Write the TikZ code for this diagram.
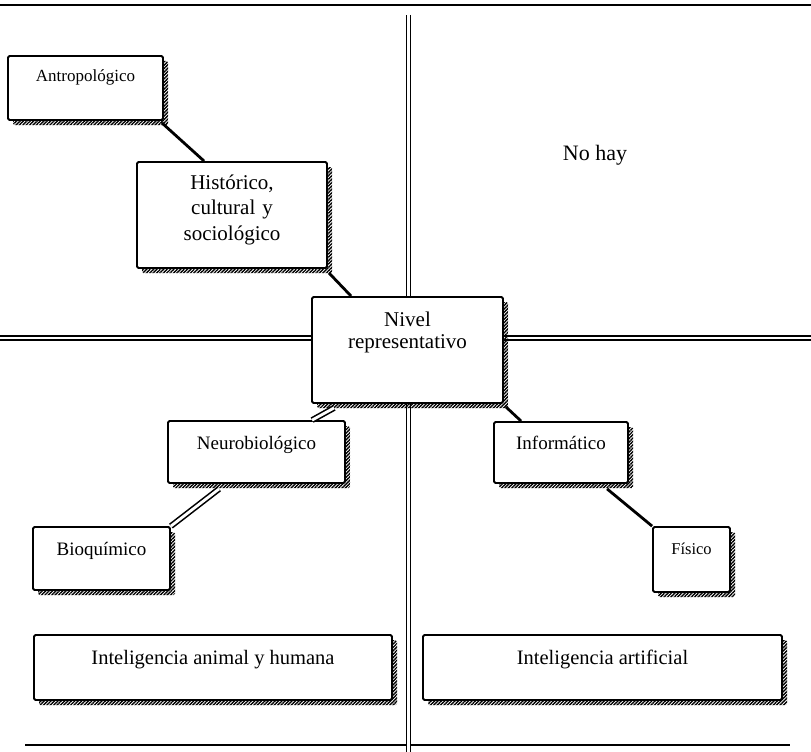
\documentclass[tikz,border=0pt]{standalone}
\usepackage{fontspec}
\setmainfont{Liberation Serif}
\usetikzlibrary{patterns.meta,calc}
\begin{document}
\begin{tikzpicture}[x=1pt,y=-1pt,
  box/.style={draw, line width=1.8pt, fill=white, rounded corners=1.5pt, inner sep=0pt,
    preaction={draw=none, pattern={Lines[angle=45,distance=2.4pt,line width=1.4pt]},
      transform canvas={shift={(5pt,-5pt)}}}},
  txt/.style={anchor=base, align=center, inner sep=0pt, font=\fontsize{20.5}{24}\selectfont},
  smalltxt/.style={txt, font=\fontsize{19}{22}\selectfont},
  tinytxt/.style={txt, font=\fontsize{17}{20}\selectfont},
  conn/.style={line width=2.8pt},
  dconn/.style={line width=1.6pt, double, double distance=2.8pt},
  rule/.style={line width=2pt},
  grid/.style={line width=1.5pt, double, double distance=2.8pt}]
\useasboundingbox (0,0) rectangle (811,752);
% frame rules
\draw[rule] (0,5) -- (811,5);
\draw[rule] (25,745) -- (790,745);
% quadrant double lines
\draw[grid] (408.5,15) -- (408.5,752);
\draw[grid] (0,338) -- (811,338);
% boxes
\node[box, minimum width=155, minimum height=64] (A) at (85.5,88) {};
\node[box, minimum width=190, minimum height=106] (H) at (232,215) {};
\node[box, minimum width=191, minimum height=106] (N) at (407.5,350) {};
\node[box, minimum width=177, minimum height=62] (Nb) at (256.5,452) {};
\node[box, minimum width=134, minimum height=61] (I) at (561,452.5) {};
\node[box, minimum width=137, minimum height=63] (B) at (101.5,558.5) {};
\node[box, minimum width=77, minimum height=65] (F) at (691.5,559.5) {};
\node[box, minimum width=358, minimum height=65] (IA) at (213,667.5) {};
\node[box, minimum width=359, minimum height=65] (IAr) at (602.5,667.5) {};
% texts
\node[tinytxt] (tA) at ([yshift=-26pt]A.north) {Antropológico};
\node[txt, text width=180pt, font=\fontsize{21}{25.5}\selectfont] (tH) at ([yshift=-28pt]H.north) {Histórico,\\cultural y\\sociológico};
\node[txt, text width=185pt, font=\fontsize{21}{22.5}\selectfont] (tN) at ([yshift=-30pt]N.north) {Nivel\\representativo};
\node[smalltxt] (tNb) at ([yshift=-29pt]Nb.north) {Neurobiológico};
\node[smalltxt] (tI) at ([yshift=-28pt]I.north) {Informático};
\node[smalltxt] (tB) at ([yshift=-29pt]B.north) {Bioquímico};
\node[tinytxt, font=\fontsize{16.5}{20}\selectfont] (tF) at ([yshift=-28pt]F.north) {Físico};
\node[txt] (tIA) at ([yshift=-30pt]IA.north) {Inteligencia animal y humana};
\node[txt] (tIAr) at ([yshift=-30pt]IAr.north) {Inteligencia artificial};
\node[txt, font=\fontsize{22}{24}\selectfont] (nohay) at (595,160) {No hay};
% connectors
\draw[conn] ([shift={(-2pt,-2pt)}]A.south east) -- ([xshift=68pt]H.north west);
\draw[conn] ([shift={(1pt,-4pt)}]H.south east) -- ([xshift=40pt]N.north west);
\draw[dconn] ([xshift=23pt,yshift=-4pt]N.south west) -- ([xshift=145pt]Nb.north west);
\draw[dconn] ([xshift=52pt,yshift=-5pt]Nb.south west) -- (B.north east);
\draw[conn] ([shift={(2pt,-3pt)}]N.south east) -- ([xshift=28pt]I.north west);
\draw[conn] ([xshift=114pt,yshift=-5pt]I.south west) -- (F.north west);
\end{tikzpicture}
\end{document}
